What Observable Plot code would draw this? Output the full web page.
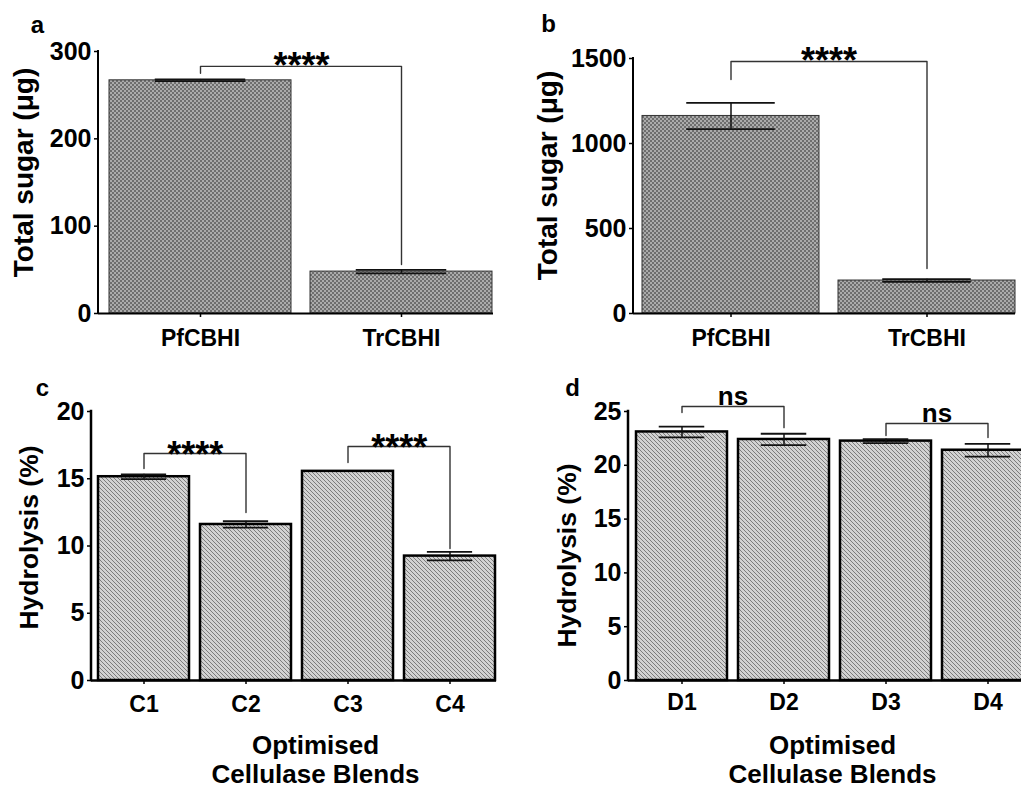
<!DOCTYPE html>
<html><head><meta charset="utf-8">
<script src="https://cdn.jsdelivr.net/npm/d3@7"></script>
<script src="https://cdn.jsdelivr.net/npm/@observablehq/plot@0.6"></script>
<style>
html,body{margin:0;padding:0;background:#fff;overflow:hidden;}
#fig{position:relative;width:1021px;height:788px;overflow:hidden;font-family:"Liberation Sans",Arial,sans-serif;}
</style></head><body>
<svg width="0" height="0" style="position:absolute">
<defs>
<pattern id="checker" width="4" height="4" patternUnits="userSpaceOnUse">
 <rect width="4" height="4" fill="#ababab"/>
 <rect width="2" height="2" fill="#6e6e6e"/>
 <rect x="2" y="2" width="2" height="2" fill="#6e6e6e"/>
</pattern>
<pattern id="hatch" width="4" height="4" patternUnits="userSpaceOnUse">
 <rect width="4" height="4" fill="#d2d2d2"/>
 <path d="M-1,-1L5,5M-1,3L1,5M3,-1L5,1" stroke="#7c7c7c" stroke-width="1"/>
</pattern>
</defs></svg>
<div id="fig"></div>
<script>
// ---------- data ----------
const aCategories = ["PfCBHI", "TrCBHI"];
const aMeans = [267, 48];
const aErrors = [1, 2];
const aTicks = [0, 100, 200, 300];
const aBracketIds = [1, 1, 1, 1];
const aBracketCats = ["PfCBHI", "PfCBHI", "TrCBHI", "TrCBHI"];
const aBracketVals = [275, 283, 283, 56];
const aSigLabels = ["****"];
const aSigCats = ["PfCBHI"];
const aSigVals = [283];

const bCategories = ["PfCBHI", "TrCBHI"];
const bMeans = [1162, 194];
const bErrors = [77, 8];
const bTicks = [0, 500, 1000, 1500];
const bBracketIds = [1, 1, 1, 1];
const bBracketCats = ["PfCBHI", "PfCBHI", "TrCBHI", "TrCBHI"];
const bBracketVals = [1376, 1482, 1482, 265];
const bSigLabels = ["****"];
const bSigCats = ["PfCBHI"];
const bSigVals = [1482];

const cCategories = ["C1", "C2", "C3", "C4"];
const cMeans = [15.15, 11.6, 15.55, 9.25];
const cErrors = [0.18, 0.24, 0, 0.32];
const cTicks = [0, 5, 10, 15, 20];
const cBracketIds = [1, 1, 1, 1, 2, 2, 2, 2];
const cBracketCats = ["C1", "C1", "C2", "C2", "C3", "C3", "C4", "C4"];
const cBracketVals = [15.76, 16.88, 16.88, 12.49, 16.2, 17.4, 17.4, 9.81];
const cSigLabels = ["****", "****"];
const cSigCats = ["C1", "C3"];
const cSigVals = [16.88, 17.4];

const dCategories = ["D1", "D2", "D3", "D4"];
const dMeans = [23.1, 22.4, 22.25, 21.4];
const dErrors = [0.5, 0.53, 0.19, 0.6];
const dTicks = [0, 5, 10, 15, 20, 25];
const dBracketIds = [1, 1, 1, 1, 2, 2, 2, 2];
const dBracketCats = ["D1", "D1", "D2", "D2", "D3", "D3", "D4", "D4"];
const dBracketVals = [24.9, 25.46, 25.46, 23.5, 22.77, 23.88, 23.88, 22.58];
const dSigLabels = ["ns", "ns"];
const dSigCats = ["D1", "D3"];
const dSigVals = [25.46, 23.88];

const yTitleSugar = "Total sugar (\u03bcg)";
const yTitleHydro = "Hydrolysis (%)";
const xTitleBlends = "Optimised\nCellulase Blends";

// ---------- layout (global pixel coordinates) ----------
const FONT = "Liberation Sans, Arial, sans-serif";

function yAxisLine(top, sw) {
  return (index, scales, values, dims) => {
    const l = document.createElementNS("http://www.w3.org/2000/svg", "line");
    const x = dims.marginLeft;
    l.setAttribute("x1", x); l.setAttribute("x2", x);
    l.setAttribute("y1", scales.y(0)); l.setAttribute("y2", scales.y(top));
    l.setAttribute("stroke", "#000"); l.setAttribute("stroke-width", sw);
    l.setAttribute("stroke-linecap", "square");
    return l;
  };
}

function panel(L, cats, means, errs, ticks, bIds, bCats, bVals, sLabels, sCats, sVals, yTitle, xTitle, o) {
  const data = cats.map((c, i) => ({cat: c, mean: means[i], err: errs[i]}));
  const withErr = data.filter(d => d.err > 0);
  const brackets = bIds.map((id, i) => ({id, cat: bCats[i], v: bVals[i]}));
  const sigs = sLabels.map((s, i) => ({label: s, cat: sCats[i], v: sVals[i]}));
  const mL = L.fl - L.left, mR = L.left + L.width - L.fr, mT = L.ft - L.top, mB = L.top + L.height - L.fb;
  const n = cats.length;
  const step = (L.xr[1] - L.xr[0]) / (n - L.pad);
  const bw = step * (1 - L.pad);
  const top = ticks[ticks.length - 1];
  const txt = (t, gx, gy, extra) => Plot.text([t], Object.assign({
    frameAnchor: "top-left", textAnchor: "middle", lineAnchor: "middle",
    dx: gx - L.fl, dy: gy - L.ft, fontWeight: "bold", fill: "#000"
  }, extra));
  const marks = [
    Plot.barY(data, {x: "cat", y: "mean", fill: o.fill, stroke: o.barStroke, strokeWidth: o.barSW}),
    Plot.ruleX(withErr, {x: "cat", y1: d => d.mean - d.err, y2: d => d.mean + d.err, stroke: "#111", strokeWidth: 1.5}),
    Plot.tickY(withErr, {x: "cat", y: d => d.mean + d.err, insetLeft: bw / 4, insetRight: bw / 4, stroke: "#111", strokeWidth: 1.8}),
    Plot.tickY(withErr, {x: "cat", y: d => d.mean - d.err, insetLeft: bw / 4, insetRight: bw / 4, stroke: "#111", strokeWidth: 1.8}),
    Plot.line(brackets, {x: "cat", y: "v", z: "id", stroke: "#333", strokeWidth: 1.4}),
    Plot.text(sigs, {x: "cat", y: "v", text: "label", dx: step / 2, dy: o.sigDy, fontSize: o.sigSize, fontWeight: "bold", fill: "#000"}),
    Plot.ruleY([0], {stroke: "#000", strokeWidth: o.axisSW}),
    yAxisLine(top, o.axisSW),
    Plot.axisX({tickSize: 4, tickPadding: o.xPad, fontSize: 23, fontWeight: "bold", label: null, strokeWidth: 1.5}),
    Plot.axisY({ticks, tickSize: 4, tickPadding: 3, tickFormat: d => String(d), fontSize: 25, fontWeight: "bold", label: null, strokeWidth: 1.5}),
    txt(o.panelLabel, o.labelPos[0], o.labelPos[1], {fontSize: 24}),
    txt(yTitle, o.yTitlePos[0], o.yTitlePos[1], {fontSize: o.yTitleSize, rotate: -90})
  ];
  if (xTitle) marks.push(txt(xTitle, o.xTitlePos[0], o.xTitlePos[1], {fontSize: 26, lineHeight: 1.12}));
  const p = Plot.plot({
    width: L.width, height: L.height,
    marginLeft: mL, marginRight: mR, marginTop: mT, marginBottom: mB,
    style: {fontFamily: FONT, fontWeight: "bold", color: "#000", background: "transparent", overflow: "visible"},
    x: {type: "band", domain: cats, range: L.xr.map(v => v - L.left), paddingInner: L.pad, paddingOuter: 0},
    y: {domain: [0, top]},
    marks
  });
  p.style.position = "absolute";
  p.style.left = L.left + "px";
  p.style.top = L.top + "px";
  p.style.maxWidth = "none";
  return p;
}

const fig = document.getElementById("fig");
fig.appendChild(panel(
  {left: 0, top: 0, width: 510, height: 340, fl: 98, ft: 51, fr: 493, fb: 313, xr: [108, 493], pad: 0.094},
  aCategories, aMeans, aErrors, aTicks, aBracketIds, aBracketCats, aBracketVals, aSigLabels, aSigCats, aSigVals,
  yTitleSugar, null,
  {fill: "url(#checker)", barStroke: "#333", barSW: 1, axisSW: 2, sigDy: 0, sigSize: 36, xPad: 12, yTitleSize: 28,
   panelLabel: "a", labelPos: [37, 25], yTitlePos: [24, 172]}
));
fig.appendChild(panel(
  {left: 510, top: 0, width: 511, height: 340, fl: 633, ft: 58, fr: 1015, fb: 313, xr: [642, 1015], pad: 0.097},
  bCategories, bMeans, bErrors, bTicks, bBracketIds, bBracketCats, bBracketVals, bSigLabels, bSigCats, bSigVals,
  yTitleSugar, null,
  {fill: "url(#checker)", barStroke: "#333", barSW: 1, axisSW: 2, sigDy: 0, sigSize: 36, xPad: 12, yTitleSize: 28,
   panelLabel: "b", labelPos: [548, 24], yTitlePos: [548, 175]}
));
fig.appendChild(panel(
  {left: 0, top: 340, width: 510, height: 448, fl: 91, ft: 411, fr: 496, fb: 680, xr: [97, 496], pad: 0.107},
  cCategories, cMeans, cErrors, cTicks, cBracketIds, cBracketCats, cBracketVals, cSigLabels, cSigCats, cSigVals,
  yTitleHydro, xTitleBlends,
  {fill: "url(#hatch)", barStroke: "#000", barSW: 2.5, axisSW: 2.5, sigDy: 2, sigSize: 36, xPad: 11, yTitleSize: 26.5,
   panelLabel: "c", labelPos: [42, 388], yTitlePos: [29, 537], xTitlePos: [315, 759]}
));
fig.appendChild(panel(
  {left: 510, top: 340, width: 530, height: 448, fl: 628, ft: 411, fr: 1033, fb: 680, xr: [636, 1033], pad: 0.108},
  dCategories, dMeans, dErrors, dTicks, dBracketIds, dBracketCats, dBracketVals, dSigLabels, dSigCats, dSigVals,
  yTitleHydro, xTitleBlends,
  {fill: "url(#hatch)", barStroke: "#000", barSW: 2.5, axisSW: 2.5, sigDy: -10, sigSize: 26, xPad: 9, yTitleSize: 26.5,
   panelLabel: "d", labelPos: [572, 388], yTitlePos: [567, 555], xTitlePos: [832, 759]}
));
</script>
</body></html>
